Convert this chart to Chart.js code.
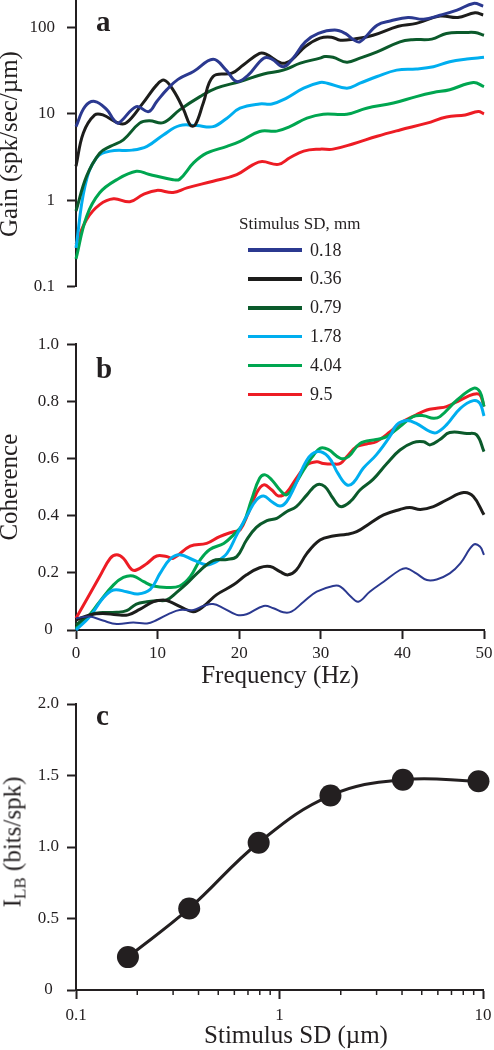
<!DOCTYPE html>
<html><head><meta charset="utf-8">
<script src="https://cdn.jsdelivr.net/npm/chart.js@4.4.1/dist/chart.umd.min.js"></script>
<style>
html,body{margin:0;padding:0;background:#fff;}
#wrap{position:relative;width:494px;height:1050px;overflow:hidden;font-family:"Liberation Serif","Times New Roman",serif;color:#231f20;}
.pane{position:absolute;left:0;width:494px;}
.txt{position:absolute;white-space:nowrap;}
.letter{font-weight:bold;font-size:29px;line-height:29px;}
.leg-line{position:absolute;left:248px;width:54px;height:3.5px;}
.leg-lab{position:absolute;left:310px;font-size:18px;line-height:18px;}
</style></head>
<body><div id="wrap">
<div class="pane" style="top:0;height:300px"><canvas id="ca"></canvas></div>
<div class="pane" style="top:300px;height:390px"><canvas id="cb"></canvas></div>
<div class="pane" style="top:690px;height:360px"><canvas id="cc"></canvas></div>
<div class="txt letter" style="left:96px;top:7px">a</div>
<div class="txt letter" style="left:96px;top:354px">b</div>
<div class="txt letter" style="left:96px;top:701px">c</div>
<div class="txt" style="left:239px;top:215px;font-size:17px;line-height:17px">Stimulus SD, mm</div>
<div id="legend"></div>
<div class="txt" style="left:12px;top:842px;font-size:25px;line-height:25px;transform:translate(-50%,-50%) rotate(-90deg)">I<span style="font-size:17px;vertical-align:-5px;line-height:0">LB</span> (bits/spk)</div>
<div class="txt" style="left:296px;top:1022px;font-size:25px;line-height:25px;transform:translateX(-50%)">Stimulus SD (µm)</div>
</div>
<script>
// ---- data ----
const sdLabels = ['0.18','0.36','0.79','1.78','4.04','9.5'];
const sdValues = [0.18,0.36,0.79,1.78,4.04,9.5];
const infoValues = [0.23,0.57,1.03,1.36,1.47,1.46];

const gain018 = [[0,7.1],[1.1,12.1],[2.3,13.9],[3.8,11.1],[4.6,8.6],[5.2,7.8],[7.4,12.1],[8.9,10.6],[9.9,13.9],[11.1,18.9],[12.5,25],[14.4,30.8],[16.8,42.7],[18.4,32],[19.7,23.6],[21.1,28],[23,44],[24,43],[25.4,35],[26.6,44],[28.1,68],[29.7,85],[31.7,93],[33,85],[34,72],[34.8,68],[36.9,106],[38.6,119],[40.7,130],[42.6,124],[44.6,138],[46.7,158],[48.7,189],[49.9,176]];
const gain036 = [[0,2.47],[0.9,6],[2.3,9.7],[3.3,9.7],[5.2,7.8],[6.2,7.9],[8.2,13.3],[9.9,21.6],[10.8,24.5],[11.9,18.9],[13.2,11.1],[14,7.4],[14.6,7.4],[15.6,13.3],[16.8,27],[19.1,29.5],[20.5,36.7],[22.5,50],[23.3,49],[25.2,38.5],[26.4,42],[28.1,60],[29.9,75],[31.3,77],[32.4,71],[34,73],[36.4,81],[39.5,103],[41.7,111],[44.6,135],[46.8,130],[48.9,147],[49.9,139]];
const gain079 = [[0,0.75],[1.3,1.9],[2.9,3.5],[4.2,4.2],[5.8,5],[7.8,7.8],[9,8.3],[10.7,7.9],[12.7,11.1],[15.2,15.8],[17.2,19.8],[20.1,23.6],[23,28.9],[25.4,32],[27.5,38.5],[29.9,44],[30.5,46],[31.5,45],[33.2,39.5],[34.8,44],[36.9,52],[39.7,68],[41.2,72],[43.6,73],[45.4,85],[47.7,87],[48.9,87],[50,81]];
const gain178 = [[0,0.28],[1.1,1.45],[2.5,3.1],[4.2,3.7],[6.9,3.8],[8.7,4.2],[10.7,5.7],[12.7,7.3],[14.8,7.3],[16.8,7.1],[18.5,8.9],[20.1,11.6],[22.5,13],[24,13],[25.8,15.2],[27.9,19.8],[29.9,23],[30.8,22.6],[33.2,19.8],[34.8,22.6],[36.9,27],[39.3,32],[41.7,33],[43.8,35],[45.8,40],[47.9,43],[50,45]];
const gain404 = [[0,0.21],[1.3,0.65],[2.9,1.22],[5,1.73],[7.4,2.16],[8.9,2],[11.9,1.73],[12.7,1.75],[14.4,2.7],[16,3.5],[18.5,4.2],[20.1,4.8],[22.5,6.25],[24.6,6.3],[26.2,7.1],[28.3,8.9],[30.3,9.9],[33.2,9.9],[35.6,11.6],[38.9,13.3],[41.7,15.8],[43.8,17.6],[45.8,19],[48.7,23],[50,20.6]];
const gain95 = [[0,0.31],[1.3,0.6],[2.9,0.89],[4.6,1.04],[6.6,0.96],[8.2,1.16],[9.9,1.3],[11.9,1.23],[13.6,1.39],[16.8,1.66],[19.7,1.98],[21.7,2.58],[22.8,2.8],[24.8,2.6],[26.2,3.1],[27.9,3.7],[29.9,3.9],[31.5,3.9],[34,4.5],[36.9,5.5],[39.7,6.5],[43,7.8],[45.4,9.2],[47.7,9.7],[49.3,10.6],[50,10]];

const coh018 = [[0,0.041],[1.7,0.047],[3.3,0.033],[5,0.021],[7,0.026],[8.7,0.023],[9.9,0.035],[11.5,0.058],[12.7,0.07],[14.4,0.07],[15.6,0.084],[16.8,0.091],[18.1,0.076],[19.7,0.053],[20.9,0.055],[23,0.084],[24.2,0.076],[25.4,0.062],[26.4,0.064],[27.9,0.099],[29.5,0.134],[31.5,0.154],[32.4,0.152],[33.6,0.119],[34.6,0.099],[36,0.134],[37.7,0.169],[39.7,0.21],[40.5,0.216],[41.7,0.198],[43,0.175],[44.2,0.177],[45.8,0.198],[47.1,0.233],[48.7,0.298],[49.5,0.292],[50,0.263]];
const coh036 = [[0,0.035],[1.7,0.053],[3.3,0.058],[5,0.053],[6.4,0.053],[7.8,0.072],[9.5,0.099],[10.7,0.105],[11.5,0.099],[13.2,0.076],[14.4,0.064],[15.6,0.082],[17.2,0.123],[19.3,0.158],[20.9,0.193],[22.5,0.218],[23.8,0.222],[25,0.204],[26,0.193],[27,0.21],[28.3,0.268],[29.9,0.315],[31.5,0.329],[33.2,0.335],[34.4,0.344],[36,0.373],[37.7,0.403],[39.7,0.422],[40.9,0.429],[42.2,0.422],[43.8,0.432],[45.4,0.455],[47.5,0.481],[48.7,0.467],[50,0.403]];
const coh079 = [[0,0.018],[1.7,0.053],[3.3,0.061],[5,0.062],[6.2,0.068],[7.4,0.091],[8.7,0.099],[9.9,0.103],[11.1,0.105],[12.3,0.131],[13.6,0.163],[15.2,0.208],[16.8,0.243],[18.5,0.247],[19.7,0.257],[20.9,0.315],[22.1,0.359],[23.4,0.383],[24.6,0.391],[25.8,0.414],[27,0.432],[28.3,0.473],[29.5,0.508],[30.5,0.502],[31.5,0.461],[32.4,0.432],[33.6,0.449],[34.8,0.49],[36.4,0.527],[38.1,0.583],[39.7,0.63],[41.3,0.656],[42.6,0.659],[43.4,0.648],[44.6,0.667],[45.8,0.691],[47.9,0.688],[49.1,0.683],[50,0.624]];
const coh178 = [[0,0],[1.7,0.047],[3.3,0.111],[4.6,0.14],[6.2,0.134],[7.6,0.126],[9.1,0.142],[10.3,0.198],[11.5,0.247],[12.7,0.263],[14.4,0.245],[16,0.228],[17.2,0.239],[18.5,0.268],[19.7,0.333],[21.1,0.408],[22.1,0.455],[23,0.469],[24,0.449],[25,0.434],[25.8,0.449],[26.8,0.502],[28.3,0.595],[29.5,0.624],[30.9,0.607],[32.1,0.548],[33.2,0.508],[34,0.516],[35.2,0.566],[36.8,0.613],[38.5,0.679],[39.3,0.718],[40.5,0.733],[41.7,0.723],[43.4,0.694],[44.2,0.691],[45.4,0.718],[47.1,0.776],[48.7,0.803],[49.5,0.793],[50,0.749]];
const coh404 = [[0,0.006],[1.3,0.041],[2.9,0.099],[4.6,0.158],[5.8,0.184],[7,0.189],[8.3,0.169],[9.5,0.154],[11.1,0.149],[12.7,0.154],[14,0.187],[15.2,0.245],[16.4,0.282],[18.1,0.303],[19.3,0.333],[20.5,0.373],[21.5,0.455],[22.5,0.531],[23.2,0.543],[24,0.525],[25,0.49],[25.8,0.473],[26.8,0.508],[27.9,0.56],[28.9,0.604],[29.9,0.636],[30.9,0.632],[32.4,0.601],[33.4,0.607],[34.8,0.653],[36.8,0.667],[38.1,0.677],[39.7,0.712],[41.3,0.747],[42.6,0.75],[43.8,0.741],[44.6,0.747],[46.7,0.805],[48.7,0.846],[49.5,0.834],[50,0.782]];
const coh95 = [[0,0.041],[2.9,0.187],[4.2,0.251],[5,0.263],[5.8,0.251],[6.8,0.212],[7.4,0.21],[8.7,0.233],[9.9,0.259],[11.1,0.257],[11.9,0.251],[14,0.294],[16,0.303],[17.6,0.327],[19.3,0.344],[20.1,0.35],[21.1,0.408],[22.1,0.478],[23,0.508],[24,0.49],[24.8,0.469],[25.8,0.481],[27,0.531],[28.3,0.578],[29.5,0.589],[30.3,0.583],[31.5,0.581],[32.4,0.583],[33.2,0.607],[34.4,0.642],[35.6,0.651],[36.8,0.659],[38.5,0.694],[39.7,0.723],[41.7,0.753],[43,0.77],[44.2,0.776],[45.4,0.782],[47.1,0.805],[48.7,0.825],[49.5,0.823],[50,0.782]];

const gainTicks = [0.1,1,10,100];
const gainTickLabels = ['0.1','1','10','100'];
const cohTicks = [0,0.2,0.4,0.6,0.8,1.0];
const cohTickLabels = ['0','0.2','0.4','0.6','0.8','1.0'];
const freqTicks = [0,10,20,30,40,50];
const freqTickLabels = ['0','10','20','30','40','50'];
const infoTicks = [0,0.5,1.0,1.5,2.0];
const infoTickLabels = ['0','0.5','1.0','1.5','2.0'];
const sdTicks = [0.1,1,10];
const sdTickLabels = ['0.1','1','10'];
const sdMinorTicks = [0.2,0.3,0.4,0.5,0.6,0.7,0.8,0.9,2,3,4,5,6,7,8,9];

// ---- styles ----
const colors = ['#2b3990','#1d1d1b','#0b5a2b','#00aeef','#00a650','#ed1c24'];
const INK = '#231f20';
const FONT = "'Liberation Serif', 'Times New Roman', serif";
const gainSeries = [gain018,gain036,gain079,gain178,gain404,gain95];
const cohSeries = [coh018,coh036,coh079,coh178,coh404,coh95];

// legend (HTML)
const leg = document.getElementById('legend');
sdLabels.forEach((lab,i)=>{
  const cy = 250 + i*28.9;
  const ln = document.createElement('div');
  ln.className='leg-line'; ln.style.top=(cy-1.75)+'px'; ln.style.background=colors[i];
  const tx = document.createElement('div');
  tx.className='txt leg-lab'; tx.style.top=(cy-9.5)+'px'; tx.textContent=lab;
  leg.appendChild(ln); leg.appendChild(tx);
});

Chart.defaults.font.family = FONT;
Chart.defaults.color = INK;

const fixY = s => { s.width = 76; s.paddingTop = 0; s.paddingBottom = 0; };
const fixX = s => { s.height = 60; s.paddingLeft = 0; s.paddingRight = 0; };
const gridOpts = {drawOnChartArea:false, drawTicks:true, tickLength:9, tickWidth:2, tickColor:INK};
const borderOpts = {display:true, color:INK, width:2};
const tickFont = {family:FONT, size:17};
const titleFont = {family:FONT, size:25};

function lineSets(series, widths){
  return series.map((arr,i)=>({
    label: sdLabels[i],
    data: arr.map(([x,y])=>({x,y})),
    borderColor: colors[i], backgroundColor: colors[i],
    borderWidth: widths[i], pointRadius:0, tension:0.4, fill:false, clip:false
  }));
}

const common = {responsive:true, maintainAspectRatio:false, animation:false,
  plugins:{legend:{display:false}, tooltip:{enabled:false}}, events:[]};

// panel a
new Chart(document.getElementById('ca'), {
  type:'line',
  data:{datasets: lineSets(gainSeries,[3,3,3,3,3,3])},
  options:{...common,
    layout:{padding:{top:1.3,right:10,bottom:13.3,left:0}},
    scales:{
      x:{type:'linear', min:0, max:50, display:false},
      y:{type:'logarithmic', min:0.1, max:200,
        afterBuildTicks: s => { s.ticks = gainTicks.map(v=>({value:v})); },
        afterFit: fixY,
        ticks:{autoSkip:false, font:tickFont, color:INK, padding:12,
          callback:(v)=>{const k=gainTicks.indexOf(v); return k>=0?gainTickLabels[k]:'';}},
        grid:gridOpts, border:borderOpts,
        title:{display:true, text:'Gain (spk/sec/µm)', font:titleFont, color:INK, padding:{top:-5,bottom:0}}
      }
    }
  }
});

// panel b
new Chart(document.getElementById('cb'), {
  type:'line',
  data:{datasets: lineSets(cohSeries,[2,3,3,3,3,3])},
  options:{...common,
    layout:{padding:{top:44.3,right:10,bottom:0,left:0}},
    scales:{
      x:{type:'linear', min:0, max:50,
        afterBuildTicks: s => { s.ticks = freqTicks.map(v=>({value:v})); },
        afterFit: fixX,
        ticks:{autoSkip:false, maxRotation:0, font:tickFont, color:INK, padding:4,
          callback:(v)=>{const k=freqTicks.indexOf(v); return k>=0?freqTickLabels[k]:'';}},
        grid:gridOpts, border:borderOpts,
        title:{display:true, text:'Frequency (Hz)', font:titleFont, color:INK, padding:{top:0,bottom:-1}}
      },
      y:{type:'linear', min:0, max:1,
        afterBuildTicks: s => { s.ticks = cohTicks.map(v=>({value:v})); },
        afterFit: fixY,
        ticks:{autoSkip:false, font:tickFont, color:INK, padding:8, crossAlign:'center',
          callback:(v)=>{const k=cohTicks.findIndex(t=>Math.abs(t-v)<1e-9); return k>=0?cohTickLabels[k]:'';}},
        grid:gridOpts, border:borderOpts,
        title:{display:true, text:'Coherence', font:titleFont, color:INK, padding:{top:-5,bottom:0}}
      }
    }
  }
});

// panel c
const minorTickPlugin = {id:'minorTicks', afterDraw(chart){
  const s = chart.scales.x, ctx = chart.ctx;
  ctx.save(); ctx.strokeStyle = INK; ctx.lineWidth = 1.5;
  sdMinorTicks.forEach(v=>{ const px = s.getPixelForValue(v);
    ctx.beginPath(); ctx.moveTo(px, s.top); ctx.lineTo(px, s.top+5); ctx.stroke(); });
  ctx.restore();
}};
new Chart(document.getElementById('cc'), {
  type:'line',
  data:{datasets:[{
    data: sdValues.map((x,i)=>({x, y: infoValues[i]})),
    borderColor:INK, backgroundColor:INK, borderWidth:3,
    pointRadius:11, pointBackgroundColor:INK, pointBorderWidth:0,
    tension:0.4, fill:false, clip:false
  }]},
  options:{...common,
    layout:{padding:{top:14,right:10,bottom:0,left:0}},
    scales:{
      x:{type:'logarithmic', min:0.1, max:10,
        afterBuildTicks: s => { s.ticks = sdTicks.map(v=>({value:v})); },
        afterFit: fixX,
        ticks:{autoSkip:false, maxRotation:0, font:tickFont, color:INK, padding:6,
          callback:(v)=>{const k=sdTicks.indexOf(v); return k>=0?sdTickLabels[k]:'';}},
        grid:gridOpts, border:borderOpts,
        title:{display:false}
      },
      y:{type:'linear', min:0, max:2,
        afterBuildTicks: s => { s.ticks = infoTicks.map(v=>({value:v})); },
        afterFit: fixY,
        ticks:{autoSkip:false, font:tickFont, color:INK, padding:8, crossAlign:'center',
          callback:(v)=>{const k=infoTicks.findIndex(t=>Math.abs(t-v)<1e-9); return k>=0?infoTickLabels[k]:'';}},
        grid:gridOpts, border:borderOpts,
        title:{display:false}
      }
    }
  },
  plugins:[minorTickPlugin]
});
</script>
</body></html>
